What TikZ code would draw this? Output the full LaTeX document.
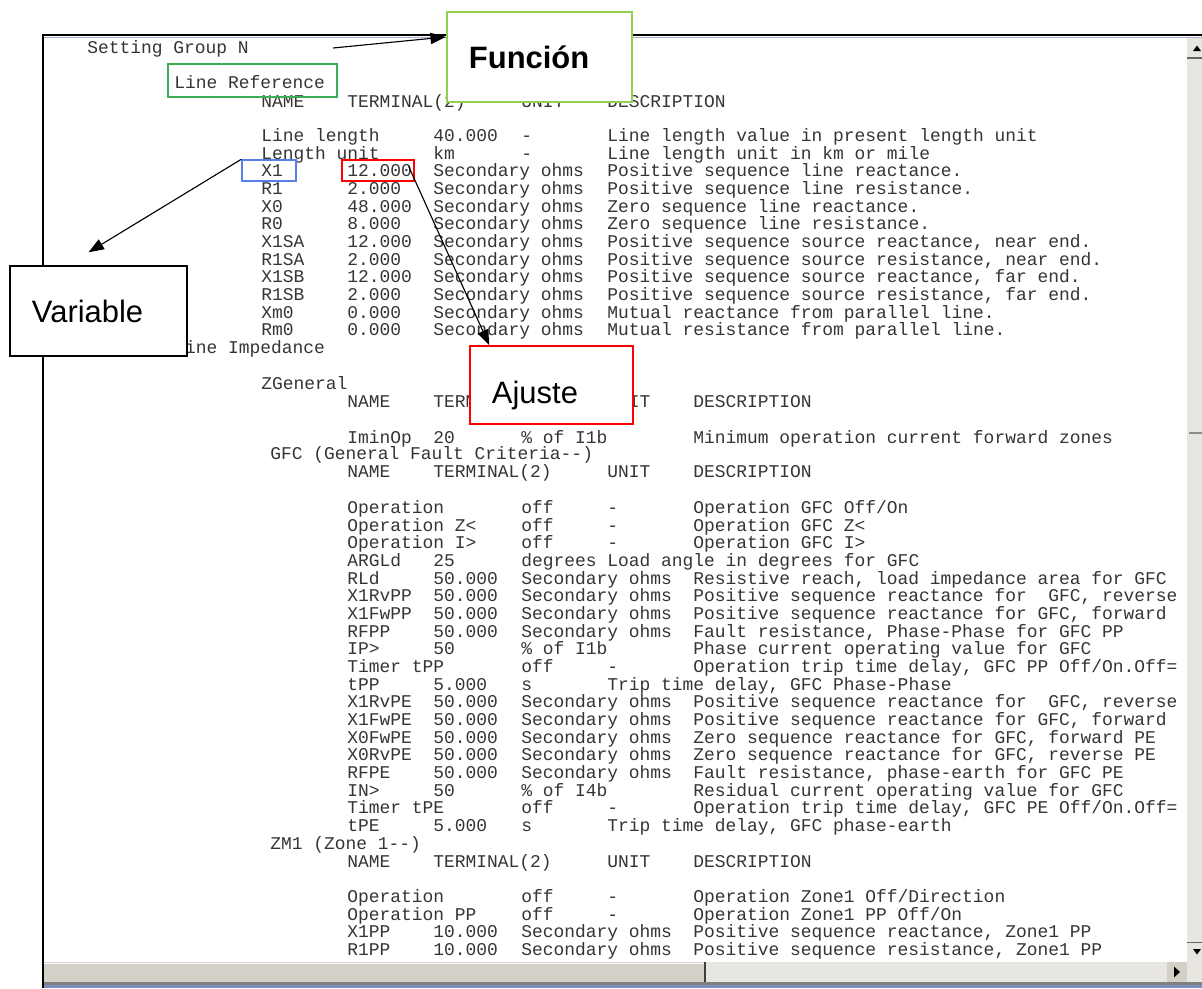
\documentclass[tikz,border=0pt]{standalone}
\usepackage{fontspec}
\setmainfont{Liberation Sans}
\setmonofont{Liberation Mono}
\usepackage{xcolor}
\usepackage{tikz}
\usetikzlibrary{arrows.meta, positioning, calc}

\definecolor{wintext}{HTML}{353535}
\definecolor{barfill}{HTML}{E8E6E0}
\definecolor{barthumb}{HTML}{D4D0C8}
\definecolor{barblue}{HTML}{7B8FBF}
\definecolor{notegreen}{HTML}{92D050}
\definecolor{refgreen}{HTML}{3DAE56}
\definecolor{varblue}{HTML}{5B7FE8}
\definecolor{adjred}{HTML}{FF0000}

\begin{document}
\begin{tikzpicture}[
    x=0.025cm, y=-0.025cm,
    txt/.style={anchor=base west, inner sep=0pt, text=wintext, font=\ttfamily\fontsize{12.75pt}{15pt}\selectfont},
    note/.style={rectangle, fill=white, align=left, inner xsep=0.55cm, inner ysep=0pt, minimum height=2.25cm, font=\fontsize{22pt}{26pt}\selectfont},
    hilite/.style={rectangle, draw, line width=1pt, minimum height=0.525cm},
    line/.style={draw, -{Triangle[length=11pt, width=8pt]}, line width=0.8pt, color=black}
]
    \useasboundingbox (0,0) rectangle (1202,988);

    % Window
    \fill[white] (43,38) rectangle (1202,988);
    \draw[line width=2pt] (42,35) -- (1202,35);
    \draw[line width=1pt, color=barblue!70] (44,37.5) -- (1202,37.5);
    \draw[line width=2pt] (43,35) -- (43,988);

    % Vertical scroll bar
    \fill[barfill] (1187,38) rectangle (1202,962);
    \draw[black!60, line width=1pt] (1187,58) -- (1202,58);
    \fill (1193,51) -- (1201,51) -- (1197,45.5) -- cycle;
    \draw[black!45, line width=1pt] (1189,433) -- (1202,433);
    \draw[black!60, line width=0.6pt] (1187,942) -- (1202,942);
    \fill (1193,949) -- (1201,949) -- (1197,954.5) -- cycle;

    % Horizontal scroll bar
    \fill[barthumb] (44,962) rectangle (705,982);
    \fill[barfill] (705,962) rectangle (1167,982);
    \draw[white, line width=1pt] (44,963.5) -- (705,963.5);
    \draw[black!75, line width=1pt] (705,962) -- (705,982);
    \fill[barthumb] (1167,962) rectangle (1187,982);
    \draw[black!60, line width=0.6pt] (1167,982) -- (1187,982) -- (1187,962);
    \fill (1174,966.5) -- (1174,977.5) -- (1180,972) -- cycle;
    \fill[barfill] (1187,962) rectangle (1202,985);
    \fill[black!50] (44,982) rectangle (1202,985);
    \fill[barblue] (44,985) rectangle (1202,988);

    \begin{scope}
    \clip (44,38) rectangle (1187,962);

    % Headings
    \node [txt] (setgrp) at (87,53) {Setting Group N};
    \node [txt] (lineref) at (174,88) {Line Reference};
    \node [txt] (lineimp) at (174,353.5) {Line Impedance};
    \node [txt] (zgen) at (261,389.5) {ZGeneral};
    \node [txt] (gfc) at (270,459.5) {GFC (General Fault Criteria--)};
    \node [txt] (zm1) at (270,849.5) {ZM1 (Zone 1--)};

    % Column headers
    \foreach \hy/\hx/\hn in {107.5/261/lr, 407.5/347/zg, 477.5/347/gf, 867.5/347/zm}{
        \node [txt] (\hn-name) at (\hx,\hy) {NAME};
        \node [txt] (\hn-term) at (\hx+86,\hy) {TERMINAL(2)};
        \node [txt] (\hn-unit) at (\hx+260,\hy) {UNIT};
        \node [txt] (\hn-desc) at (\hx+346,\hy) {DESCRIPTION};
    }

    % Line Reference
    \foreach \r/\nm/\va/\ds in {
        1/{Line length}/40.000/{Line length value in present length unit},
        2/{Length unit}/km/{Line length unit in km or mile}}{
        \node [txt] (lr\r-name) at (261,{141.5+(\r-1)*17.65}) {\nm};
        \node [txt] (lr\r-val) at (433,{141.5+(\r-1)*17.65}) {\va};
        \node [txt] (lr\r-unit) at (521,{141.5+(\r-1)*17.65}) {-};
        \node [txt] (lr\r-desc) at (607,{141.5+(\r-1)*17.65}) {\ds};
    }
    \foreach \r/\nm/\va/\ds in {
        3/X1/12.000/{Positive sequence line reactance.},
        4/R1/2.000/{Positive sequence line resistance.},
        5/X0/48.000/{Zero sequence line reactance.},
        6/R0/8.000/{Zero sequence line resistance.},
        7/X1SA/12.000/{Positive sequence source reactance, near end.},
        8/R1SA/2.000/{Positive sequence source resistance, near end.},
        9/X1SB/12.000/{Positive sequence source reactance, far end.},
        10/R1SB/2.000/{Positive sequence source resistance, far end.},
        11/Xm0/0.000/{Mutual reactance from parallel line.},
        12/Rm0/0.000/{Mutual resistance from parallel line.}}{
        \node [txt] (lr\r-name) at (261,{141.5+(\r-1)*17.65}) {\nm};
        \node [txt] (lr\r-val) at (347,{141.5+(\r-1)*17.65}) {\va};
        \node [txt] (lr\r-unit) at (433,{141.5+(\r-1)*17.65}) {Secondary ohms};
        \node [txt] (lr\r-desc) at (607,{141.5+(\r-1)*17.65}) {\ds};
    }

    % ZGeneral
    \node [txt] (zg1-name) at (347,443.5) {IminOp};
    \node [txt] (zg1-val) at (433,443.5) {20};
    \node [txt] (zg1-unit) at (521,443.5) {\% of I1b};
    \node [txt] (zg1-desc) at (693,443.5) {Minimum operation current forward zones};

    % GFC, settings with a value
    \foreach \r/\nm/\va/\un/\ds in {
        5/RLd/50.000/{Secondary ohms}/{Resistive reach, load impedance area for GFC},
        6/X1RvPP/50.000/{Secondary ohms}/{Positive sequence reactance for\ \ GFC, reverse},
        7/X1FwPP/50.000/{Secondary ohms}/{Positive sequence reactance for GFC, forward},
        8/RFPP/50.000/{Secondary ohms}/{Fault resistance, Phase-Phase for GFC PP},
        9/IP>/50/{\% of I1b}/{Phase current operating value for GFC},
        12/X1RvPE/50.000/{Secondary ohms}/{Positive sequence reactance for\ \ GFC, reverse},
        13/X1FwPE/50.000/{Secondary ohms}/{Positive sequence reactance for GFC, forward},
        14/X0FwPE/50.000/{Secondary ohms}/{Zero sequence reactance for GFC, forward PE},
        15/X0RvPE/50.000/{Secondary ohms}/{Zero sequence reactance for GFC, reverse PE},
        16/RFPE/50.000/{Secondary ohms}/{Fault resistance, phase-earth for GFC PE},
        17/IN>/50/{\% of I4b}/{Residual current operating value for GFC}}{
        \node [txt] (gf\r-name) at (347,{513.5+(\r-1)*17.67}) {\nm};
        \node [txt] (gf\r-val) at (433,{513.5+(\r-1)*17.67}) {\va};
        \node [txt] (gf\r-unit) at (521,{513.5+(\r-1)*17.67}) {\un};
        \node [txt] (gf\r-desc) at (693,{513.5+(\r-1)*17.67}) {\ds};
    }

    % GFC, on/off settings
    \foreach \r/\nm/\ds in {
        1/Operation/{Operation GFC Off/On},
        2/{Operation Z<}/{Operation GFC Z<},
        3/{Operation I>}/{Operation GFC I>},
        10/{Timer tPP}/{Operation trip time delay, GFC PP Off/On.Off=},
        18/{Timer tPE}/{Operation trip time delay, GFC PE Off/On.Off=}}{
        \node [txt] (gf\r-name) at (347,{513.5+(\r-1)*17.67}) {\nm};
        \node [txt] (gf\r-val) at (521,{513.5+(\r-1)*17.67}) {off};
        \node [txt] (gf\r-unit) at (607,{513.5+(\r-1)*17.67}) {-};
        \node [txt] (gf\r-desc) at (693,{513.5+(\r-1)*17.67}) {\ds};
    }

    % GFC, short unit
    \foreach \r/\nm/\va/\un/\ds in {
        4/ARGLd/25/degrees/{Load angle in degrees for GFC},
        11/tPP/5.000/s/{Trip time delay, GFC Phase-Phase},
        19/tPE/5.000/s/{Trip time delay, GFC phase-earth}}{
        \node [txt] (gf\r-name) at (347,{513.5+(\r-1)*17.67}) {\nm};
        \node [txt] (gf\r-val) at (433,{513.5+(\r-1)*17.67}) {\va};
        \node [txt] (gf\r-unit) at (521,{513.5+(\r-1)*17.67}) {\un};
        \node [txt] (gf\r-desc) at (607,{513.5+(\r-1)*17.67}) {\ds};
    }

    % ZM1
    \foreach \r/\nm/\ds in {
        1/Operation/{Operation Zone1 Off/Direction},
        2/{Operation PP}/{Operation Zone1 PP Off/On}}{
        \node [txt] (zm\r-name) at (347,{902.5+(\r-1)*17.67}) {\nm};
        \node [txt] (zm\r-val) at (521,{902.5+(\r-1)*17.67}) {off};
        \node [txt] (zm\r-unit) at (607,{902.5+(\r-1)*17.67}) {-};
        \node [txt] (zm\r-desc) at (693,{902.5+(\r-1)*17.67}) {\ds};
    }
    \foreach \r/\nm/\ds in {
        3/X1PP/{Positive sequence reactance, Zone1 PP},
        4/R1PP/{Positive sequence resistance, Zone1 PP}}{
        \node [txt] (zm\r-name) at (347,{902.5+(\r-1)*17.67}) {\nm};
        \node [txt] (zm\r-val) at (433,{902.5+(\r-1)*17.67}) {10.000};
        \node [txt] (zm\r-unit) at (521,{902.5+(\r-1)*17.67}) {Secondary ohms};
        \node [txt] (zm\r-desc) at (693,{902.5+(\r-1)*17.67}) {\ds};
    }
    \end{scope}

    % Marked entries
    \node (lrefbox) [hilite, draw=refgreen, minimum width=4.225cm, minimum height=0.825cm] at (252.5,80.5) {};
    \node (x1box) [hilite, draw=varblue, minimum width=1.35cm] at (269,170.5) {};
    \node (valbox) [hilite, draw=adjred, minimum width=1.8cm] at (378,170.5) {};

    % Notes
    \node (funcion) [note, draw=notegreen, line width=1.5pt, text width=3.525cm, font=\fontsize{22pt}{26pt}\selectfont\bfseries] at (539.5,57) {Función};
    \node (variable) [note, draw=black, line width=1pt, text width=3.325cm] at (98.5,311) {Variable};
    \node (ajuste) [note, draw=adjred, line width=1pt, text width=2.975cm, minimum height=1.95cm, text height=26pt, text depth=0pt] at (551.5,385) {Ajuste};

    % Connectors
    \coordinate (grpend) at (333,48);
    \draw [line] (grpend) -- ($(funcion.north west)+(0,26)$);
    \draw [line] (x1box.north west) -- ($(variable.north)+(-10,-13)$);
    \draw [line] ($(valbox.east)+(-6,-4)$) -- ($(ajuste.north west)+(20,0)$);

\end{tikzpicture}
\end{document}
